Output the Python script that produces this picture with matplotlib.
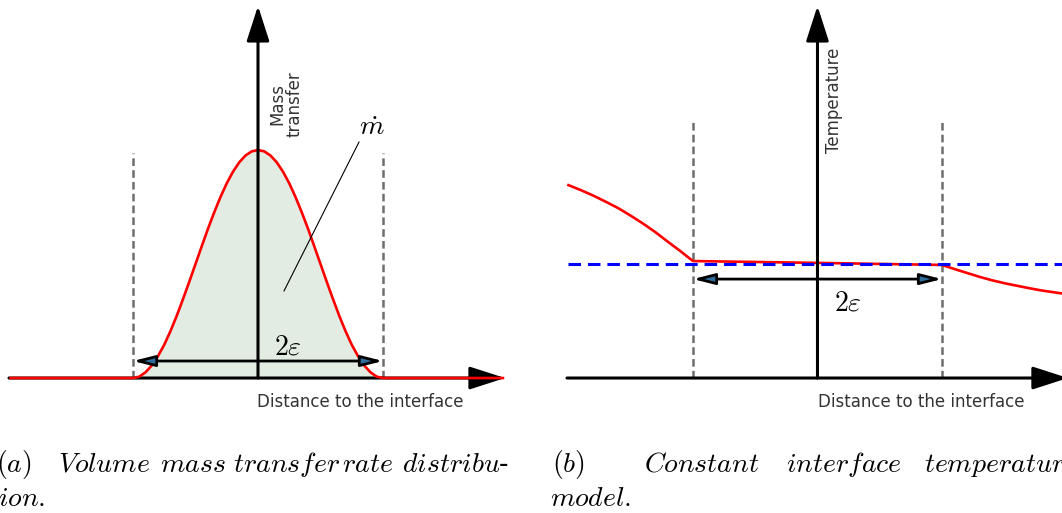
import matplotlib
matplotlib.use('Agg')
import matplotlib.pyplot as plt

plt.rcParams['mathtext.fontset'] = 'cm'
plt.rcParams['lines.scale_dashes'] = False

# ---------------- data (x in units of the half-width epsilon) ----------------
# Panel (a): normalised volume mass transfer rate
bump_x = [-1.99, -1.0, -0.95, -0.9, -0.85, -0.8, -0.75, -0.7, -0.65, -0.6, -0.55,
          -0.5, -0.45, -0.4, -0.35, -0.3, -0.25, -0.2, -0.15, -0.1, -0.05, 0.0,
          0.05, 0.1, 0.15, 0.2, 0.25, 0.3, 0.35, 0.4, 0.45, 0.5, 0.55, 0.6, 0.65,
          0.7, 0.75, 0.8, 0.85, 0.9, 0.95, 1.0, 1.97]
bump_y = [0.0, 0.0, 0.006, 0.025, 0.055, 0.096, 0.146, 0.206, 0.273, 0.346, 0.422,
          0.5, 0.578, 0.655, 0.727, 0.794, 0.854, 0.905, 0.946, 0.976, 0.994, 1.0,
          0.994, 0.976, 0.946, 0.905, 0.854, 0.794, 0.727, 0.655, 0.578, 0.5, 0.422,
          0.346, 0.273, 0.206, 0.146, 0.096, 0.055, 0.025, 0.006, 0.0, 0.0]

# Panel (b): temperature profile and the constant interface temperature
temp_x = [-2.0, -1.9, -1.8, -1.7, -1.6, -1.5, -1.4, -1.3, -1.2, -1.1, -1.0, 0.0,
          1.0, 1.1, 1.2, 1.3, 1.4, 1.5, 1.6, 1.7, 1.8, 1.9, 2.0]
temp_y = [0.846, 0.824, 0.800, 0.773, 0.745, 0.712, 0.677, 0.639, 0.597, 0.556,
          0.513, 0.505, 0.496, 0.478, 0.461, 0.444, 0.429, 0.416, 0.405, 0.394,
          0.384, 0.376, 0.368]
t_sat = 0.5
t_sat_x = [-2.0, 2.1]

eps_marks = [-1.0, 1.0]

cap_a_words = [r'$(a)$', r'$Volume$', r'$mass$', r'$transfer$', r'$rate$', r'$distribu$-']
cap_a_x = [-4, 58, 160, 233, 342, 402]
cap_a_line2 = r'$tion.$'
cap_b_words = [r'$(b)$', r'$Constant$', r'$interface$', r'$temperature$']
cap_b_x = [552, 644, 786, 924]
cap_b_line2 = r'$model.$'

# ---------------- figure ----------------
W, H = 1062, 513
fig = plt.figure(figsize=(W / 100, H / 100), dpi=100)
ax1 = fig.add_axes([0, 0, 530 / W, 1])
ax2 = fig.add_axes([530 / W, 0, 532 / W, 1])
for ax in (ax1, ax2):
    ax.set_axis_off()
ax1.set_xlim(-2.064, 2.176)
ax1.set_ylim(-0.592, 1.658)
ax2.set_xlim(-2.309, 1.964)
ax2.set_ylim(-0.592, 1.658)

RED = '#ff0000'
GRAY = '#6e6e6e'
TXT = '#333333'


def axis_arrow(ax, start, end, z):
    ax.annotate('', xy=end, xytext=start, annotation_clip=False,
                arrowprops=dict(arrowstyle='-|>,head_length=1.55,head_width=0.5',
                                mutation_scale=14, lw=2.2, color='black',
                                shrinkA=0, shrinkB=0), zorder=z)


def eps_arrow(ax, y, z):
    ax.annotate('', xy=(eps_marks[1], y), xytext=(eps_marks[0], y), annotation_clip=False,
                arrowprops=dict(arrowstyle='<|-|>,head_length=1.3,head_width=0.33',
                                mutation_scale=10, lw=2.0, fc='#2f6e9c', ec='black',
                                shrinkA=0, shrinkB=0), zorder=z)


# ---- panel (a)
mask_in = [(-1.0 <= x <= 1.0) for x in bump_x]
fx = [x for x, m in zip(bump_x, mask_in) if m]
fy = [y for y, m in zip(bump_y, mask_in) if m]
ax1.fill_between(fx, fy, 0, color='#e3ece2', lw=0, zorder=1)
for xe in eps_marks:
    ax1.plot([xe, xe], [0, 0.987], color=GRAY, lw=1.8, dashes=(5.5, 3.0), zorder=2)
axis_arrow(ax1, (-1.992, 0), (1.976, 0), 3)
ax1.plot(bump_x, bump_y, color=RED, lw=1.9, zorder=4, solid_capstyle='butt')
axis_arrow(ax1, (0, 0), (0, 1.632), 5)
eps_arrow(ax1, 0.0746, 6)
ax1.plot([0.808, 0.208], [1.035, 0.382], color='black', lw=0.8, zorder=6)
ax1.text(0.908, 1.066, r'$\dot{m}$', fontsize=20, ha='center', va='baseline', zorder=7)
ax1.text(0.24, 0.101, r'$2\varepsilon$', fontsize=20, ha='center', va='baseline', zorder=7)
ax1.text(0.224, 1.057, 'Mass\ntransfer', rotation=90, fontsize=12, color=TXT,
         ha='center', va='bottom', linespacing=1.0, zorder=7)
ax1.text(-0.008, -0.105, 'Distance to the interface', fontsize=12, color=TXT,
         ha='left', va='center', zorder=7)

# ---- panel (b)
for xe in eps_marks:
    ax2.plot([xe, xe], [0, 1.123], color=GRAY, lw=1.8, dashes=(5.5, 3.0), zorder=2)
axis_arrow(ax2, (-2.012, 0), (2.012, 0), 3)
ax2.plot(temp_x, temp_y, color=RED, lw=1.9, zorder=4)
ax2.plot(t_sat_x, [t_sat, t_sat], color='#0000ff', lw=2.2, dashes=(9.0, 5.0), zorder=5)
axis_arrow(ax2, (0, 0), (0, 1.632), 6)
eps_arrow(ax2, 0.434, 7)
ax2.text(0.245, 0.298, r'$2\varepsilon$', fontsize=20, ha='center', va='baseline', zorder=8)
ax2.text(0.133, 0.987, 'Temperature', rotation=90, fontsize=12, color=TXT,
         ha='center', va='bottom', zorder=8)
ax2.text(0.004, -0.105, 'Distance to the interface', fontsize=12, color=TXT,
         ha='left', va='center', zorder=8)

# ---- captions
CAP = dict(fontsize=20, ha='left', va='baseline', family='DejaVu Serif')
for s, px in zip(cap_a_words, cap_a_x):
    fig.text(px / W, 1 - 472 / H, s, **CAP)
fig.text(-12 / W, 1 - 506 / H, cap_a_line2, **CAP)
for s, px in zip(cap_b_words, cap_b_x):
    fig.text(px / W, 1 - 472 / H, s, **CAP)
fig.text(550 / W, 1 - 506 / H, cap_b_line2, **CAP)

fig.savefig('out.png', dpi=100)
